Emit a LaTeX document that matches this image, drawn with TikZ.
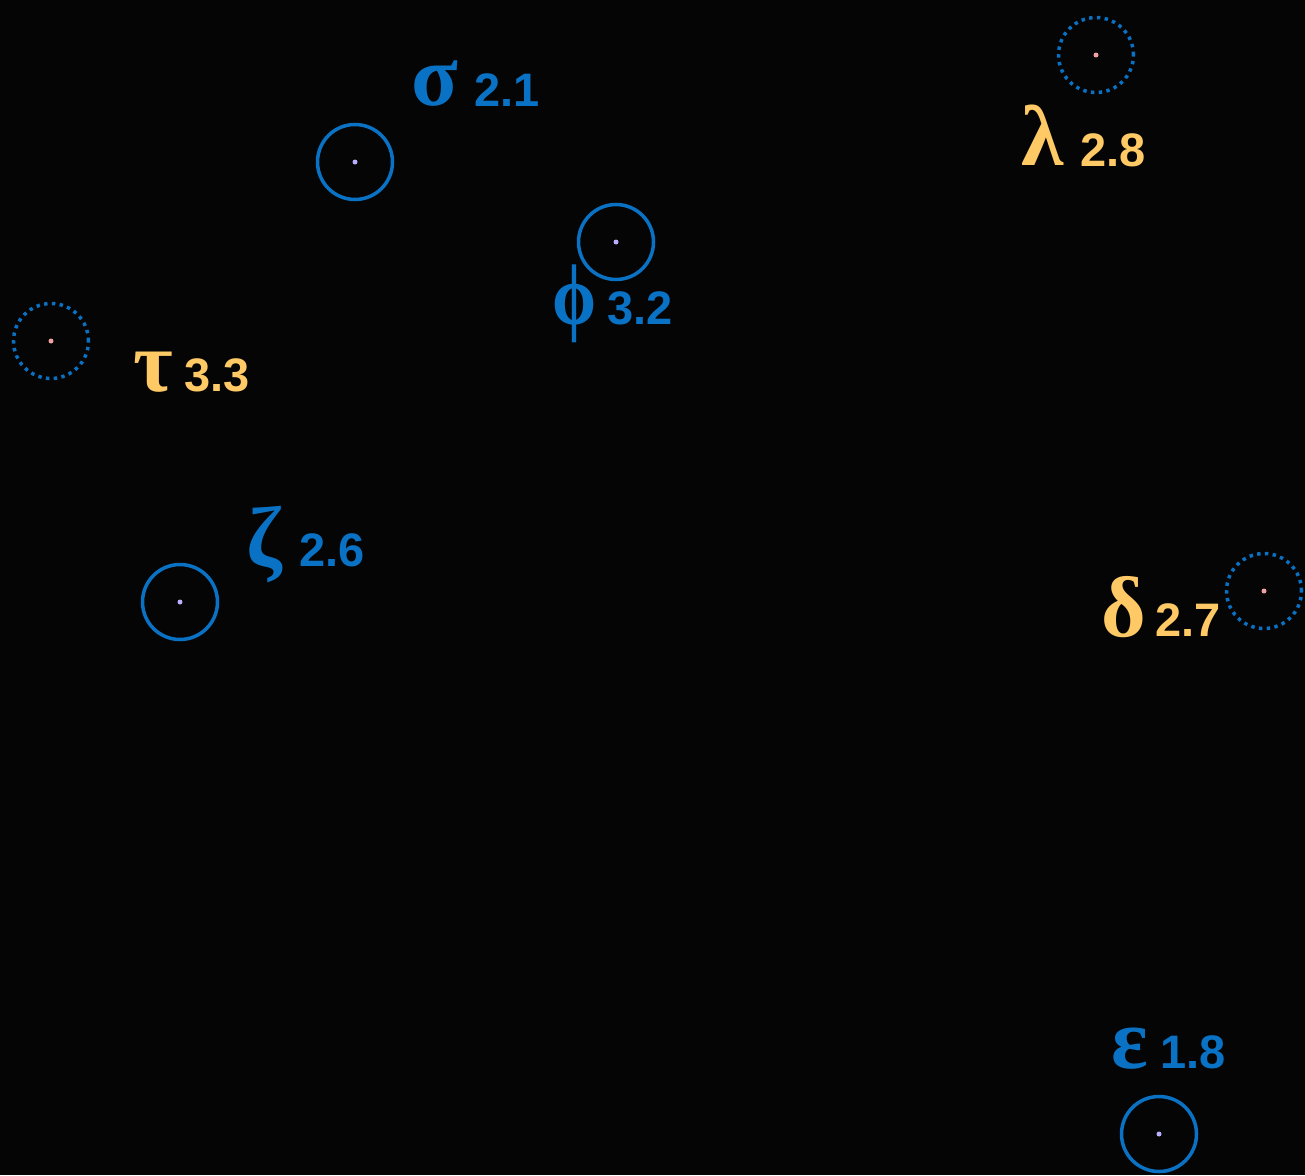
\documentclass[tikz,border=0pt]{standalone}
\usepackage{fontspec}
\setmainfont{Liberation Sans}
\newfontfamily\grk{Liberation Serif}
\newfontfamily\numf{Liberation Sans}
\definecolor{bgc}{HTML}{050505}
\definecolor{starblue}{HTML}{0A72C4}
\definecolor{staryellow}{HTML}{FFC966}
\definecolor{corelav}{HTML}{B8B0FF}
\definecolor{corepink}{HTML}{F0A0A0}
\begin{document}
\begin{tikzpicture}[x=1pt,y=-1pt,
  ring/.style={circle,draw=starblue,line width=3.5pt,minimum size=75pt,inner sep=0pt},
  dotring/.style={ring,dash pattern=on 3.4pt off 4.4pt},
  core/.style={circle,inner sep=0pt,minimum size=5pt},
  glyph/.style={anchor=base west,inner sep=0pt,font=\fontsize{86}{86}\grk\bfseries},
  value/.style={anchor=base west,inner sep=0pt,font=\fontsize{47}{47}\numf\bfseries},
  blu/.style={text=starblue},
  ylw/.style={text=staryellow}]
\fill[bgc] (0,0) rectangle (1305,1175);
\useasboundingbox (0,0) rectangle (1305,1175);
% solid rings
\node[ring] (sigma) at (355,162) {};
\node[ring] (phi) at (616,242) {};
\node[ring] (zeta) at (180,602) {};
\node[ring] (eps) at (1159,1134) {};
% dotted rings
\node[dotring] (lambda) at (1096,55) {};
\node[dotring] (tau) at (51,341) {};
\node[dotring] (delta) at (1264,591) {};
% centre points
\foreach \n in {sigma,phi,zeta,eps}{\node[core,fill=corelav] at (\n) {};}
\foreach \n in {lambda,tau,delta}{\node[core,fill=corepink] at (\n) {};}
% symbols
\node[glyph,blu] (gsigma) at (411,105) {σ};
\node[glyph,ylw] (glambda) at (1021,165) {λ};
\node[glyph,ylw] (gtau) at (133,391) {τ};
\node[glyph,blu,xscale=0.82] (gphi) at (552,324) {ϕ};
\node[glyph,blu] (gzeta) at (246,566) {ζ};
\node[glyph,ylw] (gdelta) at (1101,636) {δ};
\node[glyph,blu] (geps) at (1111,1068) {ε};
% values
\node[value,blu] (vsigma) at (474,106) {2.1};
\node[value,ylw] (vlambda) at (1080,166) {2.8};
\node[value,ylw] (vtau) at (184,391) {3.3};
\node[value,blu] (vphi) at (607,324) {3.2};
\node[value,blu] (vzeta) at (299,566) {2.6};
\node[value,ylw] (vdelta) at (1155,636) {2.7};
\node[value,blu] (veps) at (1160,1068) {1.8};
\end{tikzpicture}
\end{document}
